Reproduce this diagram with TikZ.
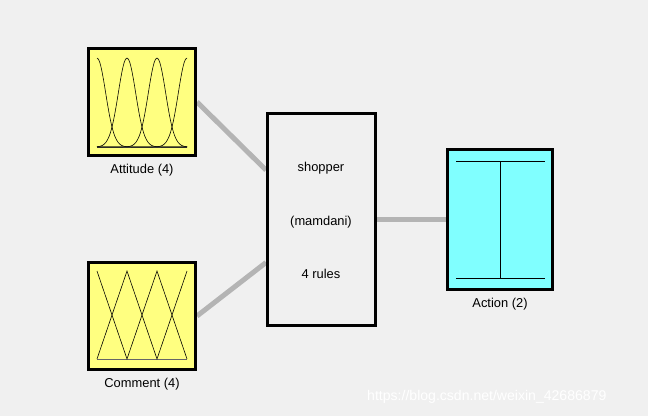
\documentclass[tikz,border=0pt]{standalone}
\usepackage{fontspec}
\setmainfont{Liberation Sans}
\usetikzlibrary{backgrounds, calc, positioning}
\definecolor{mybg}{RGB}{240, 240, 240}
\definecolor{myyellow}{RGB}{255, 255, 128}
\definecolor{mycyan}{RGB}{128, 255, 255}
\definecolor{mylink}{RGB}{180, 180, 180}
\tikzset{
  varbox/.style={draw=black, line width=0.09cm, inner sep=0pt, minimum width=3.21cm, minimum height=3.21cm},
  fisbox/.style={draw=black, line width=0.09cm, fill=mybg, inner sep=0pt, minimum width=3.24cm, minimum height=6.36cm},
  link/.style={draw=mylink, line width=0.15cm},
  mf/.style={black, line width=0.5pt},
  lbl/.style={font=\fontsize{11}{13}\selectfont, inner sep=0pt}
}

\begin{document}
\begin{tikzpicture}[x=0.03cm, y=-0.03cm]
% Boxes
\node[varbox, fill=myyellow] (att) at (142,102) {};
\node[varbox, fill=myyellow] (com) at (142,316) {};
\node[fisbox] (fis) at (321.5,219.5) {};
\node[varbox, fill=mycyan, minimum width=3.15cm, minimum height=4.2cm] (act) at (500,219.5) {};
% Links (behind the boxes)
\coordinate (in1) at ($(fis.north west)!0.27!(fis.south west)$);
\coordinate (in2) at ($(fis.north west)!0.70!(fis.south west)$);
\begin{pgfonlayer}{background}
\fill[mybg] (0,0) rectangle (648,416);
\draw[link] (att.east) -- (in1);
\draw[link] (com.east) -- (in2);
\draw[link] (fis.east) -- (act.west);
\end{pgfonlayer}
\useasboundingbox (0,0) rectangle (648,416);
% Gaussian sets
\begin{scope}[shift={(att.center)}]
\draw[black!60, thin] (-45,45) -- (45,45);
\foreach \c in {-45,-15,15,45} {
    \draw[mf, smooth, samples=61, domain=-45:45]
        plot ({\x},{45-89*exp(-((\x-\c)^2)/151)});
}
\end{scope}
% Triangular sets
\begin{scope}[shift={(com.center)}]
\draw[black!60, thin] (-45,43) -- (45,43);
\draw[mf] (-45,-45) -- (-15,43) -- (15,-45) -- (45,43);
\draw[mf] (-45,43) -- (-15,-45) -- (15,43) -- (45,-45);
\end{scope}
% Singletons
\begin{scope}[shift={(act.center)}]
\draw[mf] (-44,-58.5) -- (45,-58.5);
\draw[mf] (-44,58.5) -- (45,58.5);
\draw[mf] (0,-58.5) -- (0,58.5);
\end{scope}
% Labels
\node[lbl, below=5.5pt of att] {Attitude (4)};
\node[lbl, below=5.5pt of com] {Comment (4)};
\node[lbl, below=5.5pt of act] {Action (2)};
\node[lbl] at (321,168) {shopper};
\node[lbl] at (321,222) {(mamdani)};
\node[lbl] at (321,274) {4 rules};
\node[lbl, white, font=\fontsize{12}{14}\selectfont, anchor=west] at (367,397) {https://blog.csdn.net/weixin\_42686879};
\end{tikzpicture}
\end{document}
